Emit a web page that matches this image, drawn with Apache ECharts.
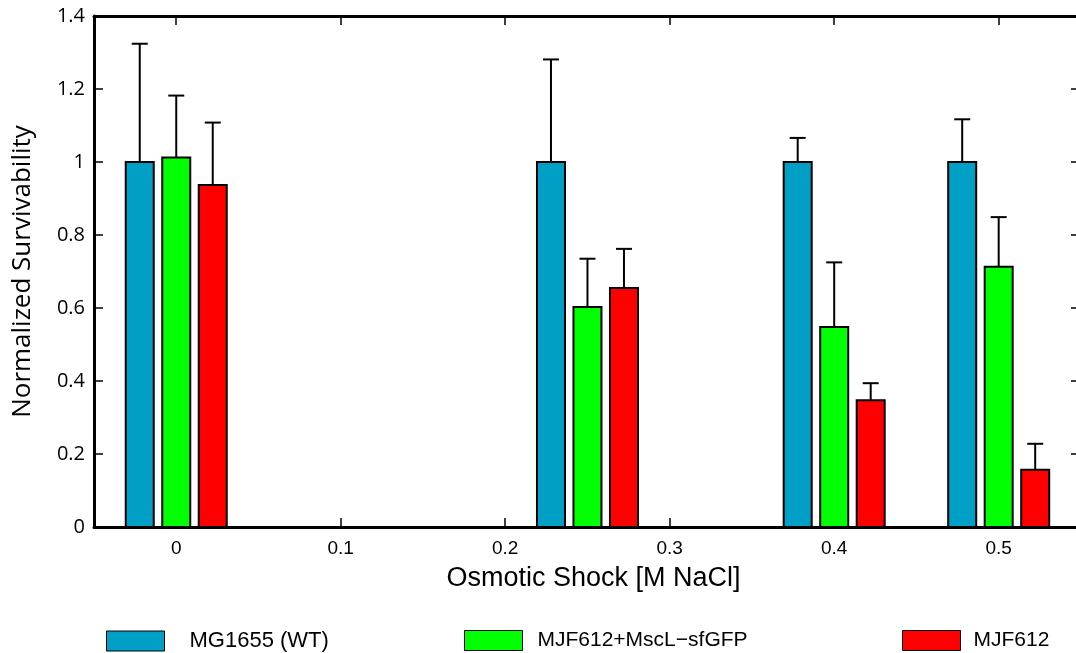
<!DOCTYPE html>
<html>
<head>
<meta charset="utf-8">
<script src="https://cdn.jsdelivr.net/npm/echarts@6/dist/echarts.min.js"></script>
<style>
  html, body { margin: 0; padding: 0; background: #fff; }
  #chart { width: 1076px; height: 653px; }
</style>
</head>
<body>
<div id="chart"></div>
<script>
// Osmotic shock levels (M NaCl) at which survivability was measured
const shock = [0, 0.25, 0.4, 0.5];
const xTicks = [0, 0.1, 0.2, 0.3, 0.4, 0.5];

// Mean normalized survivability and top of the error bar for each strain
const wtMean   = [1.0, 1.0, 1.0, 1.0];
const wtUpper  = [1.324, 1.281, 1.066, 1.117];
const gfpMean  = [1.012, 0.603, 0.548, 0.713];
const gfpUpper = [1.182, 0.735, 0.725, 0.849];
const mjfMean  = [0.937, 0.655, 0.347, 0.157];
const mjfUpper = [1.108, 0.762, 0.394, 0.228];

const strains = ['MG1655 (WT)', 'MJF612+MscL\u2212sfGFP', 'MJF612'];

const chart = echarts.init(document.getElementById('chart'), null, { renderer: 'canvas' });

const BAR_W = 28;       // inner bar width in px (plus 2px outline)
const SLOT = 36.5;      // spacing between bars of one group, px
const CAP = 16;         // error-bar cap width, px

function makeSeries(name, means, uppers, color, slot) {
  return {
    type: 'custom',
    name: name,
    itemStyle: { color: color, borderColor: '#000', borderWidth: 1.5 },
    data: shock.map((x, i) => [x, means[i], uppers[i]]),
    encode: { x: 0, y: [1, 2] },
    renderItem: function (params, api) {
      const x = api.value(0);
      const top = api.coord([x, api.value(1)]);
      const base = api.coord([x, 0]);
      const up = api.coord([x, api.value(2)]);
      const cx = top[0] + slot * SLOT;
      return {
        type: 'group',
        children: [
          {
            type: 'line',
            shape: { x1: cx, y1: top[1], x2: cx, y2: up[1] },
            style: { stroke: '#000', lineWidth: 2 }
          },
          {
            type: 'line',
            shape: { x1: cx - CAP / 2, y1: up[1], x2: cx + CAP / 2, y2: up[1] },
            style: { stroke: '#000', lineWidth: 2 }
          },
          {
            type: 'rect',
            shape: { x: cx - BAR_W / 2, y: top[1], width: BAR_W, height: base[1] - top[1] },
            style: { fill: color, stroke: '#000', lineWidth: 2 }
          }
        ]
      };
    }
  };
}

function legendAt(name, left, textPad, size) {
  return {
    show: true,
    data: [{ name: name, icon: 'rect' }],
    left: left,
    top: 630,
    padding: 0,
    itemWidth: 58,
    itemHeight: 20,
    itemStyle: { borderColor: '#000', borderWidth: 1 },
    textStyle: {
      fontFamily: 'Liberation Sans, Arial, sans-serif',
      fontSize: size,
      color: '#000',
      padding: [0, 0, 0, textPad]
    },
    selectedMode: false
  };
}

const axisLine = { show: true, onZero: false, lineStyle: { color: '#000', width: 3 } };
const innerTick = { show: true, inside: true, length: 9, lineStyle: { color: '#000', width: 1.5 } };

// x scale: 1645 px per unit, 0 sits 82 px right of the left spine
const X_MIN = -0.05;
const X_MAX = 0.547;

const option = {
  backgroundColor: '#fff',
  animation: false,
  grid: { left: 94, top: 16, width: 982, height: 511, containLabel: false },
  legend: [
    legendAt(strains[0], 106, 20, 22),
    legendAt(strains[1], 464, 10, 21),
    legendAt(strains[2], 902, 8, 21)
  ],
  xAxis: [
    {
      type: 'value',
      position: 'bottom',
      min: X_MIN,
      max: X_MAX,
      name: 'Osmotic Shock [M NaCl]',
      nameLocation: 'middle',
      nameGap: 38,
      nameTextStyle: {
        fontFamily: 'Liberation Sans, Arial, sans-serif',
        fontSize: 27,
        color: '#000',
        padding: [0, 0, 0, 17]
      },
      axisLine: axisLine,
      axisTick: Object.assign({ customValues: xTicks }, innerTick),
      axisLabel: {
        customValues: xTicks,
        margin: 12,
        fontFamily: 'Liberation Sans, Arial, sans-serif',
        fontSize: 19,
        color: '#000'
      },
      splitLine: { show: false }
    },
    {
      type: 'value',
      position: 'top',
      min: X_MIN,
      max: X_MAX,
      axisLine: axisLine,
      axisTick: Object.assign({ customValues: xTicks }, innerTick),
      axisLabel: { show: false },
      splitLine: { show: false }
    }
  ],
  yAxis: [
    {
      type: 'value',
      position: 'left',
      min: 0,
      max: 1.4,
      interval: 0.2,
      name: 'Normalized Survivability',
      nameLocation: 'middle',
      nameRotate: 90,
      nameGap: 58,
      nameTextStyle: { fontFamily: 'Open Sans, sans-serif', fontSize: 26, color: '#000' },
      axisLine: axisLine,
      axisTick: innerTick,
      axisLabel: {
        margin: 9,
        fontFamily: 'Open Sans, sans-serif',
        fontSize: 20,
        color: '#000'
      },
      splitLine: { show: false }
    },
    {
      type: 'value',
      position: 'right',
      min: 0,
      max: 1.4,
      interval: 0.2,
      axisLine: { show: false, onZero: false },
      axisTick: { show: true, inside: true, length: 5, lineStyle: { color: '#000', width: 1.5 } },
      axisLabel: { show: false },
      splitLine: { show: false }
    }
  ],
  series: [
    makeSeries(strains[0], wtMean, wtUpper, '#00A0C6', -1),
    makeSeries(strains[1], gfpMean, gfpUpper, '#00FF00', 0),
    makeSeries(strains[2], mjfMean, mjfUpper, '#FF0000', 1)
  ]
};

chart.setOption(option);
</script>
</body>
</html>
